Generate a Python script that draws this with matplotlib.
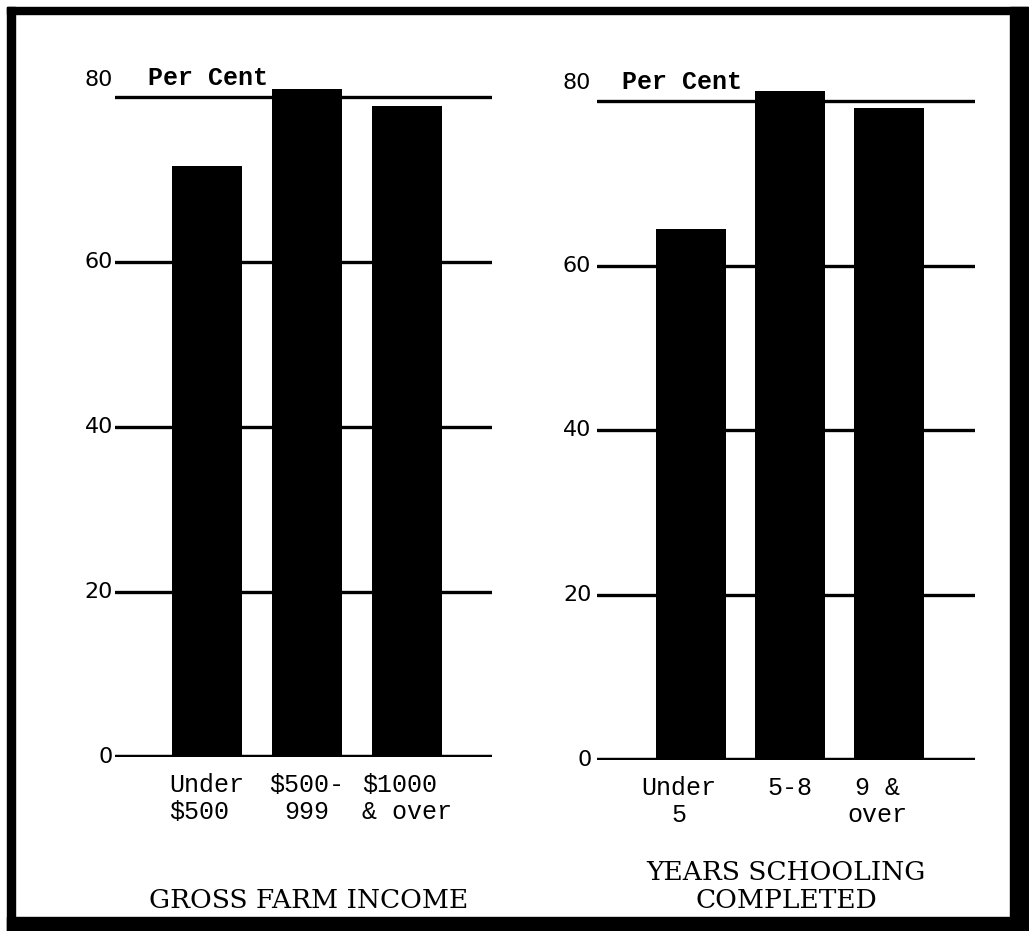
import matplotlib.pyplot as plt
from matplotlib.patches import Rectangle

# data
income_labels = ["Under\n$500", "$500-\n999", "$1000\n& over"]
income_pct = [71.6, 81.0, 78.9]
school_labels = ["Under\n5", "5-8", "9 &\nover"]
school_pct = [64.4, 81.2, 79.1]
grid_levels = [0, 20, 40, 60, 80]

W, H = 1029, 931
fig = plt.figure(figsize=(W / 100, H / 100), dpi=100)

MONO = "Liberation Mono"
SERIF = "DejaVu Serif"


def px_axes(left, top, right, bottom):
    # place an axes using pixel coords measured from the top-left corner
    return fig.add_axes([left / W, 1 - bottom / H, (right - left) / W, (bottom - top) / H])


def panel(ax, labels, values, xlim, ylim, num_x, pc_x, multialign, lab_dx):
    x = range(len(values))
    ax.set_xlim(*xlim)
    ax.set_ylim(*ylim)
    for lev in grid_levels:
        ax.axhline(lev, color="black", lw=3.2 if lev == 0 else 2.4, zorder=1,
                   solid_capstyle="round")
    ax.bar(x, values, width=0.70, color="black", zorder=2)
    ax.axis("off")

    # y labels
    for lev in grid_levels[:-1]:
        ax.text(num_x, lev, str(lev), transform=ax.get_yaxis_transform(),
                ha="right", va="center", fontsize=16, family="DejaVu Sans")
    ax.text(num_x, 82.1, "80", transform=ax.get_yaxis_transform(),
            ha="right", va="center", fontsize=16, family="DejaVu Sans")
    ax.text(pc_x, 82.3, "Per Cent", ha="left", va="center", fontsize=18,
            family=MONO, fontweight="semibold")

    # category labels
    for i, lab in enumerate(labels):
        ax.text(i + lab_dx[i], -0.022, lab, transform=ax.get_xaxis_transform(),
                ha="center", va="top", fontsize=18, family=MONO, linespacing=1.2,
                multialignment=multialign[i])


ax1 = px_axes(115, 50, 492, 757)
panel(ax1, income_labels, income_pct, (-0.92, 2.85), (0, 707 / 8.25), -0.005, -0.59,
      ["left", "center", "left"], [0, 0, 0])

ax2 = px_axes(597, 50, 975, 760)
panel(ax2, school_labels, school_pct, (-0.95, 2.87), (0, 710 / 8.24), -0.015, -0.70,
      ["center", "center", "center"], [-0.12, 0, -0.12])

fig.text(309 / W, 1 - 900 / H, "GROSS FARM INCOME", ha="center", va="center",
         fontsize=19, family=SERIF)
fig.text(786 / W, 1 - 886 / H, "YEARS SCHOOLING\nCOMPLETED", ha="center",
         va="center", fontsize=19, family=SERIF, linespacing=1.15)

# scanned frame, heavier on the right and bottom
for l, t, r, b in [(7, 7, 15, 931), (7, 7, 1028, 14), (1010, 7, 1028, 931), (7, 917, 1028, 931)]:
    fig.patches.append(Rectangle((l / W, 1 - b / H), (r - l) / W, (b - t) / H,
                                 transform=fig.transFigure, color="black"))

fig.savefig("out.png", dpi=100, facecolor="white")
